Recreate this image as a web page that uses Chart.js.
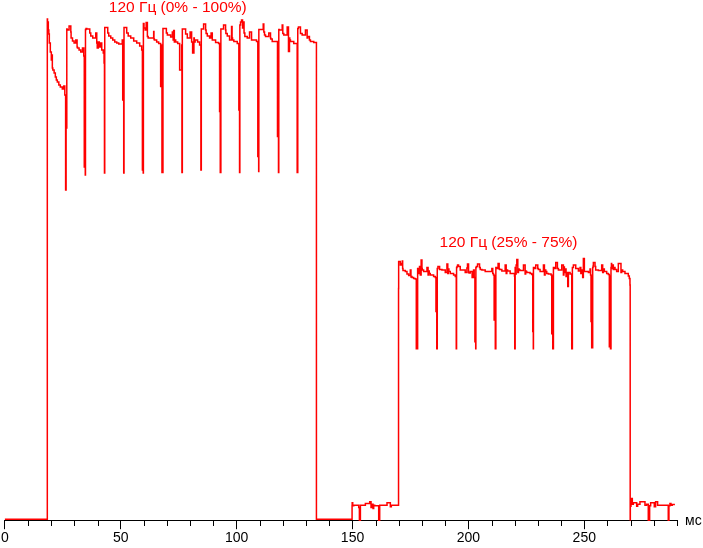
<!DOCTYPE html>
<html>
<head>
<meta charset="utf-8">
<script src="https://cdn.jsdelivr.net/npm/chart.js@4/dist/chart.umd.min.js"></script>
<style>
  html, body { margin: 0; padding: 0; background: #fff; }
  canvas { display: block; }
</style>
</head>
<body>
<canvas id="responseChart" width="703" height="548"></canvas>
<script>
// time axis, ms
const majorTicks = [0, 50, 100, 150, 200, 250];
const axisMaxMs = 290;
const axisUnit = 'мс';

const modeLabels = ['120 Гц (0% - 100%)', '120 Гц (25% - 75%)'];

// 0% -> 100% -> 0%
const fullSwingTimes = [
  0, 18.3, 18.4,
  18.74, 18.96, 19.17, 19.6, 20.03, 20.25, 20.47, 20.68, 21.24, 21.76, 22.19, 22.62, 23.27, 23.91, 24.77, 25.42, 25.85, 26.2, 26.41, 26.58, 26.71, 26.84,
  27.0, 27.7, 28.44, 28.56, 29.17, 29.86, 30.59, 31.15, 31.32, 32.01, 32.74, 33.48, 34.04, 34.25, 34.6, 34.68, 34.77, 35.03,
  35.33, 36.62, 37.05, 37.91, 39.2, 39.64, 39.85, 40.28, 40.71, 41.15, 41.79, 42.44, 42.79, 42.96, 43.08, 43.39,
  44.38, 44.81, 45.67, 46.53, 47.4, 48.26, 49.12, 49.98, 50.63, 50.84, 51.14, 51.27, 51.4, 51.7,
  52.56, 53.21, 54.29, 55.58, 56.87, 58.16, 59.03, 59.33, 59.59, 59.68, 59.76, 60.02,
  60.53, 60.96, 61.48, 61.82, 62.9, 64.19, 64.32, 64.49, 65.48, 66.34, 67.2, 67.64, 67.77, 68.2, 68.42,
  69.67, 70.1, 71.52, 72.25, 72.6, 72.81, 73.11, 73.37, 73.68, 74.54, 75.4, 76.26, 76.39, 76.56, 76.82,
  77.98, 78.71, 79.92, 80.57, 81.0, 81.56, 81.73, 82.08, 83.15, 84.01, 84.57, 84.75, 85.01,
  85.74, 86.6, 86.82, 87.33, 88.32, 88.97, 89.49, 89.62, 90.91, 92.2, 92.63, 92.76, 92.93, 93.19, 93.49,
  94.35, 95.22, 95.35, 95.95, 96.94, 97.8, 98.02, 98.23, 98.79, 100.26, 100.95, 101.25, 101.38, 101.68,
  102.11, 102.54, 102.84, 103.19, 103.53, 104.57, 105.56, 106.42, 106.85, 107.71, 108.57, 109.13, 109.44, 109.5, 109.57, 109.87,
  111.46, 111.72, 112.02, 112.45, 113.87, 114.61, 114.74, 115.34, 116.76, 117.62, 117.92, 118.05, 118.18, 118.48,
  119.65, 119.91, 120.34, 121.8, 122.36, 122.79, 122.92, 123.22, 124.64, 125.38, 126.11, 126.37, 126.67,
  127.53, 128.26, 129.68, 130.41, 130.67, 131.4, 131.53, 131.84, 133.26, 134.42, 134.73
];
const fullSwingLevels = [
  0.2, 0.2, 100.2,
  99.6, 98, 97.2, 95.4, 93.6, 92, 93, 90.4, 90, 89.4, 88.6, 88, 87.6, 87, 86.6, 86.2, 86.8, 85, 66, 85, 78.4, 98.2,
  98.1, 98, 98.8, 97.6, 96.4, 95.8, 95.4, 96, 94.6, 94.4, 94, 93.6, 94.4, 92.8, 70.6, 92, 69, 98.1,
  98.3, 98.2, 97.4, 96.8, 96.4, 97.4, 95.4, 94.4, 95.6, 94.6, 95.4, 94, 93.4, 91.4, 69.4, 98.5,
  98.5, 97.4, 96.8, 96.4, 96, 95.6, 95.4, 95.2, 95.2, 96, 84, 94.8, 69.4, 98.5,
  98.5, 97.4, 96.8, 96.4, 95.8, 95.4, 94.8, 94, 70, 90, 69.4, 99.3,
  98.4, 98, 99.5, 96.7, 96.4, 96.4, 97.7, 96.2, 96, 95.6, 95.3, 86.7, 95, 69.5, 98.3,
  98.3, 97.4, 97, 96.6, 97.6, 96, 97.9, 95.6, 96, 95.6, 95.3, 90, 95, 69.5, 98.2,
  98.2, 97.2, 96.4, 97.6, 95.6, 93.4, 96.4, 95.6, 96, 95.6, 95, 70, 98.2,
  98.2, 99.2, 98, 97.3, 96.8, 96.4, 97.4, 96, 96, 95.5, 95.3, 81.7, 95, 69.5, 98.2,
  98.2, 99, 98, 97.3, 96.8, 96, 98.7, 96.4, 96, 95.7, 95.3, 82, 69.5, 99,
  99.6, 100, 98.4, 99.6, 97.4, 96.7, 96.4, 97.6, 96, 96, 96, 95.7, 72.7, 94, 69.7, 98.1,
  98.1, 99.2, 97.6, 97, 96.7, 97.4, 96.4, 96.2, 95.7, 95.7, 76.7, 94, 69.5, 98.1,
  98, 99, 97.3, 97, 98.6, 93.7, 96.4, 96, 95.7, 95.3, 95.3, 69.5, 98.3,
  98.6, 97.3, 97, 98, 96.4, 96.7, 96, 96, 95.7, 95.5, 0.2
];

// 0% hold, then 25% level
const darkGapTimes = [
  149.8, 149.85, 150.08, 150.2, 150.51, 152.67, 152.96, 153.39, 153.67, 155.54, 157.41, 157.98, 158.41, 158.84,
  159.13, 159.56, 161.29, 161.72, 162.15, 164.88, 166.31, 166.74, 167.17, 169.85
];
const darkGapLevels = [
  0.2, 2.87, 3.47, 2.87, 2.87, 3, 2.53, 0, 3, 3, 3.33, 3.67, 2.53, 3.2,
  2.33, 3, 2.87, 0, 3, 3, 3.47, 2.67, 3, 3
];

// 25% -> 75% -> 25%
const midSwingTimes = [
  169.9, 170.19,
  170.62, 171.05, 171.48, 171.62, 171.77, 172.77, 173.49, 174.21, 174.93, 175.21, 175.4, 175.65, 176.36, 177.08, 177.51, 177.8, 177.95, 178.09, 178.25,
  178.52, 178.9, 179.24, 179.6, 179.95, 180.1, 180.67, 182.11, 182.6, 182.83, 183.1, 183.54, 184.98, 185.7, 186.0, 186.13, 186.35, 186.56, 186.75,
  186.85, 187.57, 188.57, 190.01, 190.73, 191.1, 191.3, 191.6, 192.16, 193.6, 194.32, 194.75, 194.89, 195.1,
  195.32, 195.75, 196.47, 197.19, 198.62, 199.34, 199.6, 200.06, 200.3, 200.78, 201.6, 202.22, 202.5, 202.8, 203.05, 203.15, 203.22, 203.45,
  203.94, 204.8, 205.1, 205.81, 207.24, 208.68, 210.11, 210.5, 210.83, 211.1, 211.41, 211.6, 211.84, 212.05,
  212.27, 212.8, 213.27, 213.5, 214.42, 215.86, 216.3, 216.58, 216.9, 218.01, 219.45, 219.88, 220.0, 220.17, 220.4,
  220.6, 220.88, 221.31, 221.6, 221.88, 222.31, 223.75, 224.47, 224.7, 224.9, 225.19, 226.62, 227.34, 227.77, 227.9, 228.0, 228.06, 228.3,
  228.49, 229.06, 229.93, 230.2, 230.93, 232.37, 232.8, 233.09, 233.37, 233.8, 234.52, 235.67, 235.96, 236.25, 236.4, 236.68, 236.9,
  237.11, 237.68, 238.4, 238.6, 238.83, 240.27, 240.98, 241.2, 241.42, 241.7, 242.13, 242.42, 242.85, 243.14, 243.4, 243.86, 244.58, 244.86, 245.1,
  245.29, 246.3, 246.6, 247.45, 248.17, 248.5, 248.88, 249.3, 249.6, 250.03, 250.2, 250.32, 251.76, 252.47, 252.7, 252.9, 253.05, 253.19, 253.62, 253.8,
  253.91, 254.63, 254.9, 256.06, 257.5, 257.93, 258.22, 258.65, 259.66, 260.37, 260.8, 261.09, 261.3, 261.52, 261.7,
  261.81, 262.2, 262.53, 262.8, 263.25, 263.96, 264.68, 265.83, 266.12, 266.55, 267.55, 268.99, 269.42, 269.71, 269.8, 269.86
];
const midSwingLevels = [
  46.3, 51.7,
  51.7, 51, 51.3, 51.8, 50.3, 49.9, 49.7, 49.2, 48.9, 50, 48.6, 48.7, 48.5, 48.3, 48.2, 34.3, 46, 34.3, 50.3,
  50.3, 49.3, 50.7, 49, 52, 50.3, 50, 49.7, 50.5, 49, 49.8, 49.3, 49, 48.7, 48.5, 41.7, 48.5, 34.3, 50.3,
  50.3, 50.7, 50.1, 50, 49.5, 51.2, 49.3, 50.2, 49.7, 49.3, 49, 48.7, 34.3, 50.5,
  50.7, 51, 50.7, 50, 50, 49.5, 50.4, 51.2, 49.5, 49.4, 49.7, 48.5, 50, 48.5, 35.7, 48.5, 34.3, 50.5,
  50.7, 51.2, 50.5, 50.1, 50, 49.7, 49.7, 50.3, 49.3, 49, 40, 48.8, 34.3, 50.5,
  50.5, 50.3, 51.3, 50.2, 50.1, 49.8, 51, 49.3, 50, 49.8, 49.3, 49.3, 48.8, 34.3, 50.5,
  49.2, 51, 52.1, 49.5, 50.2, 50, 49.9, 51, 49.2, 49.8, 49.7, 49.5, 49.3, 49.1, 37.7, 48.8, 34.3, 50.5,
  50.5, 50.3, 51, 50.3, 50.1, 49.7, 51, 49, 50, 49.7, 49.3, 49.2, 49, 37.3, 48.8, 34.3, 50.5,
  50.5, 50.3, 51.5, 50.3, 50.3, 50, 51, 49, 50.6, 49.5, 50.2, 48.7, 49.5, 46.7, 49.5, 49.5, 49.2, 34.3, 50.5,
  50.5, 51, 50.3, 50.3, 49.8, 50.5, 49.3, 50, 48.5, 52.3, 49.7, 49.7, 49.7, 49.5, 50.2, 49, 39.7, 48.8, 34.5, 50.5,
  50.8, 51.5, 50.7, 50, 49.9, 51, 49.5, 50.2, 49.7, 49.3, 49.1, 34.7, 48.8, 34.3, 50.5,
  51.3, 50.3, 51, 50.1, 50.5, 50.1, 49.7, 51.3, 49.5, 50, 49.7, 49.3, 48.8, 48.3, 47, 0.1
];

// back on the 25% level
const greyTailTimes = [
  270.14, 270.72, 271.15, 272.6, 273.02, 274.02, 276.18, 276.89, 277.61, 278.19, 278.62,
  280.2, 280.77, 281.63, 282.64, 284.79, 286.23, 286.52, 286.95, 287.38, 287.95, 289.1
];
const greyTailLevels = [
  2.8, 4.33, 3.2, 3.5, 2.8, 3.2, 3.7, 3, 3.2, 0, 2.9,
  3.5, 2.67, 3.7, 3, 3, 3, 0, 2.9, 3.33, 3, 3.13
];

const toPoints = (times, levels) => times.map((t, i) => ({ x: t, y: levels[i] }));

const tracePoints = [
  ...toPoints(fullSwingTimes, fullSwingLevels),
  ...toPoints(darkGapTimes, darkGapLevels),
  ...toPoints(midSwingTimes, midSwingLevels),
  ...toPoints(greyTailTimes, greyTailLevels),
];

const FONT = 'Liberation Sans, Arial, sans-serif';
const RED = '#ff0000';

// minor ticks, unit name and the two captions
const decorations = {
  id: 'decorations',
  afterDraw(chart) {
    const { ctx, chartArea, scales } = chart;
    const x = scales.x;
    const y = scales.y;
    const base = Math.round(chartArea.bottom);

    ctx.save();
    ctx.strokeStyle = '#000';
    ctx.lineWidth = 1;
    for (let t = 10; t <= axisMaxMs; t += 10) {
      if (majorTicks.includes(t)) continue;
      const px = Math.round(x.getPixelForValue(t)) + 0.5;
      ctx.beginPath();
      ctx.moveTo(px, base);
      ctx.lineTo(px, base + 6);
      ctx.stroke();
    }

    ctx.fillStyle = '#000';
    ctx.font = `14px ${FONT}`;
    ctx.textAlign = 'left';
    ctx.textBaseline = 'alphabetic';
    ctx.fillText(axisUnit, chartArea.right + 8, base + 5);

    ctx.fillStyle = RED;
    ctx.font = `15.5px ${FONT}`;
    ctx.textAlign = 'center';
    ctx.fillText(modeLabels[0], x.getPixelForValue(74.6), y.getPixelForValue(101.5));
    ctx.fillText(modeLabels[1], x.getPixelForValue(217.3), y.getPixelForValue(54.7));
    ctx.restore();
  },
};

new Chart(document.getElementById('responseChart'), {
  type: 'line',
  data: {
    datasets: [
      {
        data: tracePoints,
        borderColor: RED,
        borderWidth: 1.5,
        pointRadius: 0,
        stepped: 'after',
        fill: false,
        clip: false,
      },
    ],
  },
  options: {
    responsive: false,
    animation: false,
    devicePixelRatio: 1,
    parsing: false,
    layout: {
      padding: { left: 4, right: 26, top: 20, bottom: 0 },
    },
    plugins: {
      legend: { display: false },
      tooltip: { enabled: false },
    },
    scales: {
      x: {
        type: 'linear',
        min: 0,
        max: axisMaxMs,
        border: { display: true, color: '#000', width: 1 },
        grid: {
          drawOnChartArea: false,
          drawTicks: true,
          tickLength: 9,
          color: (context) => (majorTicks.includes(context.tick && context.tick.value) ? '#000' : 'rgba(0,0,0,0)'),
        },
        ticks: {
          stepSize: 10,
          autoSkip: false,
          maxRotation: 0,
          padding: 1,
          color: '#000',
          font: { family: FONT, size: 14 },
          callback: (value) => (majorTicks.includes(value) ? String(value) : ''),
        },
      },
      y: {
        display: false,
        min: 0,
        max: 100,
      },
    },
  },
  plugins: [decorations],
});
</script>
</body>
</html>
